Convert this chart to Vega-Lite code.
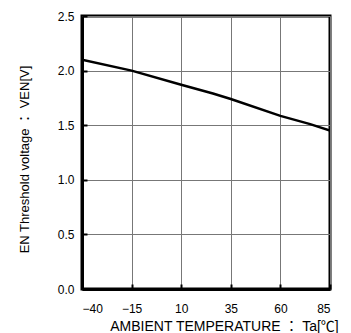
{
  "$schema": "https://vega.github.io/schema/vega-lite/v6.json",
  "width": 248,
  "height": 273,
  "autosize": "none",
  "padding": {"left": 82, "top": 16, "right": 21, "bottom": 44},
  "background": "white",
  "config": {
    "view": {"stroke": "black", "strokeWidth": 3},
    "font": "Liberation Sans, Noto Sans CJK JP",
    "axis": {
      "domainColor": "black",
      "domainWidth": 3,
      "gridColor": "#777777",
      "gridWidth": 1,
      "gridOpacity": 1,
      "labelFont": "Liberation Sans, Noto Sans CJK JP",
      "labelFontSize": 12,
      "labelColor": "black",
      "titleFont": "Liberation Sans, Noto Sans CJK JP",
      "titleFontSize": 13,
      "titleFontWeight": "normal",
      "titleColor": "black",
      "titleBaseline": "alphabetic",
      "tickColor": "black",
      "tickWidth": 2,
      "tickSize": -5
    }
  },
  "data": {
    "values": [
      {"t": -40, "v": 2.10},
      {"t": -15, "v": 2.00},
      {"t": 10, "v": 1.87},
      {"t": 26, "v": 1.79},
      {"t": 35, "v": 1.74},
      {"t": 60, "v": 1.585},
      {"t": 75, "v": 1.51},
      {"t": 85, "v": 1.45}
    ]
  },
  "mark": {"type": "line", "color": "black", "strokeWidth": 2.5, "clip": true},
  "encoding": {
    "x": {
      "field": "t",
      "type": "quantitative",
      "scale": {"domain": [-40, 85], "nice": false, "zero": false},
      "axis": {
        "values": [-40, -15, 10, 35, 60, 85],
        "labelExpr": "replace(datum.label, '-', '−')",
        "labelPadding": 19,
        "title": "AMBIENT TEMPERATURE ： Ta[℃]",
        "titleFontSize": 14,
        "titleX": 142,
        "titleY": 41,
        "titleAlign": "center"
      }
    },
    "y": {
      "field": "v",
      "type": "quantitative",
      "scale": {"domain": [0, 2.5], "nice": false},
      "axis": {
        "values": [0, 0.5, 1, 1.5, 2, 2.5],
        "format": ".1f",
        "labelPadding": 13,
        "title": "EN Threshold voltage ： VEN[V]",
        "titleX": -54,
        "titleY": 143,
        "titleAlign": "center",
        "titleAngle": -90
      }
    }
  }
}
